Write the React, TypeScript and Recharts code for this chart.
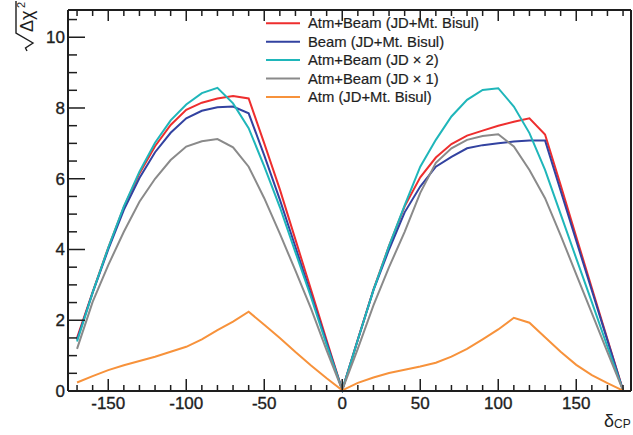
import { LineChart, Line, XAxis, YAxis } from "recharts";

// delta_CP grid (degrees)
const deltaCP = [
  -170, -160, -150, -140, -130, -120, -110, -100, -90, -80, -70, -60, -50, -40, -30, -20, -10, 0,
  10, 20, 30, 40, 50, 60, 70, 80, 90, 100, 110, 120, 130, 140, 150, 160, 170, 180,
];

const atmBeamJDBisul = [
  1.5, 2.8, 4.05, 5.2, 6.15, 6.92, 7.52, 7.95, 8.15, 8.27, 8.34, 8.27, 7.0, 5.7, 4.28, 2.86, 1.43, 0.03,
  1.46, 2.87, 4.1, 5.22, 6.04, 6.6, 6.98, 7.22, 7.36, 7.5, 7.61, 7.71, 7.25, 5.82, 4.36, 2.91, 1.46, 0.02,
];
const beamJDBisul = [
  1.45, 2.78, 4.0, 5.12, 6.02, 6.75, 7.3, 7.71, 7.92, 8.02, 8.04, 7.85, 6.66, 5.41, 4.07, 2.72, 1.37, 0.03,
  1.45, 2.85, 4.0, 5.05, 5.78, 6.34, 6.62, 6.86, 6.95, 7.0, 7.05, 7.08, 7.08, 5.66, 4.25, 2.84, 1.43, 0.02,
];
const atmBeamJD2 = [
  1.4, 2.78, 4.05, 5.22, 6.2, 7.02, 7.65, 8.1, 8.42, 8.57, 8.13, 7.43, 6.35, 5.2, 3.92, 2.65, 1.3, 0.03,
  1.45, 2.85, 4.1, 5.25, 6.34, 7.1, 7.76, 8.23, 8.51, 8.56, 8.04, 7.29, 6.25, 5.0, 3.75, 2.51, 1.25, 0.02,
];
const atmBeamJD1 = [
  1.19, 2.52, 3.56, 4.5, 5.35, 6.0, 6.53, 6.91, 7.06, 7.12, 6.89, 6.34, 5.45, 4.45, 3.4, 2.33, 1.15, 0.03,
  1.2, 2.42, 3.5, 4.5, 5.6, 6.45, 6.86, 7.1, 7.21, 7.26, 6.91, 6.25, 5.45, 4.4, 3.3, 2.2, 1.1, 0.02,
];
const atmJDBisul = [
  0.24, 0.42, 0.59, 0.73, 0.85, 0.97, 1.11, 1.25, 1.46, 1.72, 1.96, 2.24, 1.87, 1.5, 1.1, 0.72, 0.36, 0.02,
  0.23, 0.38, 0.51, 0.6, 0.69, 0.8, 0.97, 1.19, 1.46, 1.74, 2.07, 1.93, 1.52, 1.11, 0.74, 0.45, 0.22, 0.01,
];

const xTicks = [
  -170, -160, -150, -140, -130, -120, -110, -100, -90, -80, -70, -60, -50, -40, -30, -20, -10, 0,
  10, 20, 30, 40, 50, 60, 70, 80, 90, 100, 110, 120, 130, 140, 150, 160, 170, 180,
];
const yTicks = [
  0, 0.5, 1, 1.5, 2, 2.5, 3, 3.5, 4, 4.5, 5, 5.5, 6, 6.5, 7, 7.5, 8, 8.5, 9, 9.5, 10, 10.5,
];

const series = [
  { key: "atmBeamBisul", name: "Atm+Beam (JD+Mt. Bisul)", color: "#ee2e2e", values: atmBeamJDBisul },
  { key: "beamBisul", name: "Beam (JD+Mt. Bisul)", color: "#3242a0", values: beamJDBisul },
  { key: "atmBeamJD2", name: "Atm+Beam (JD \u00d7 2)", color: "#1fb6ba", values: atmBeamJD2 },
  { key: "atmBeamJD1", name: "Atm+Beam (JD \u00d7 1)", color: "#8a8a8a", values: atmBeamJD1 },
  { key: "atmBisul", name: "Atm (JD+Mt. Bisul)", color: "#f7923b", values: atmJDBisul },
];

const data = deltaCP.map((d, i) => {
  const row: Record<string, number> = { delta: d };
  series.forEach((s) => (row[s.key] = s.values[i]));
  return row;
});

const FONT = "'Liberation Sans', Arial, Helvetica, sans-serif";
const INK = "#1e1e1e";

const isMajorX = (v: number) => v % 50 === 0;
const isMajorY = (v: number) => Math.abs(v % 2) < 1e-9;

function BottomTick({ x, y, payload }: any) {
  const major = isMajorX(payload.value);
  return (
    <g>
      <line x1={x} x2={x} y1={y} y2={y - (major ? 12 : 6)} stroke={INK} strokeWidth={1.5} />
      {major && (
        <text
          x={x}
          y={y + 18}
          textAnchor="middle"
          fontSize={17}
          fill={INK}
          stroke={INK}
          strokeWidth={0.35}
          fontFamily={FONT}
        >
          {payload.value}
        </text>
      )}
    </g>
  );
}

function TopTick({ x, y, payload }: any) {
  const major = isMajorX(payload.value);
  return <line x1={x} x2={x} y1={y} y2={y + (major ? 11 : 6)} stroke={INK} strokeWidth={1.5} />;
}

function LeftTick({ x, y, payload }: any) {
  const major = isMajorY(payload.value);
  return (
    <g>
      <line x1={x} x2={x + (major ? 17 : 9)} y1={y} y2={y} stroke={INK} strokeWidth={1.5} />
      {major && (
        <text
          x={x - 3}
          y={y + 6}
          textAnchor="end"
          fontSize={17}
          fill={INK}
          stroke={INK}
          strokeWidth={0.35}
          fontFamily={FONT}
        >
          {payload.value}
        </text>
      )}
    </g>
  );
}

function RightTick({ x, y, payload }: any) {
  const major = isMajorY(payload.value);
  return <line x1={x} x2={x - (major ? 17 : 9)} y1={y} y2={y} stroke={INK} strokeWidth={1.5} />;
}

export default function App() {
  const xDomain = [-175.8, 185.1];
  const yDomain = [0, 10.77];
  const axisLine = { stroke: INK, strokeWidth: 2 };

  return (
    <div style={{ position: "fixed", left: 0, top: 0, width: 633, height: 435, background: "#fff" }}>
      <LineChart width={633} height={435} data={data} margin={{ top: 9, right: 1, bottom: 43, left: 67 }}>
        <XAxis
          dataKey="delta"
          type="number"
          domain={xDomain}
          ticks={xTicks}
          interval={0}
          height={1}
          tickSize={0}
          tickMargin={0}
          tickLine={false}
          axisLine={axisLine}
          tick={BottomTick}
        />
        <XAxis
          xAxisId="top"
          orientation="top"
          dataKey="delta"
          type="number"
          domain={xDomain}
          ticks={xTicks}
          interval={0}
          height={1}
          tickSize={0}
          tickMargin={0}
          tickLine={false}
          axisLine={axisLine}
          tick={TopTick}
        />
        <YAxis
          type="number"
          domain={yDomain}
          ticks={yTicks}
          interval={0}
          width={1}
          tickSize={0}
          tickMargin={0}
          tickLine={false}
          axisLine={axisLine}
          tick={LeftTick}
        />
        <YAxis
          yAxisId="right"
          orientation="right"
          type="number"
          domain={yDomain}
          ticks={yTicks}
          interval={0}
          width={1}
          tickSize={0}
          tickMargin={0}
          tickLine={false}
          axisLine={axisLine}
          tick={RightTick}
        />
        {series.map((s) => (
          <Line
            key={s.key}
            type="linear"
            dataKey={s.key}
            stroke={s.color}
            strokeWidth={2}
            dot={false}
            isAnimationActive={false}
          />
        ))}
      </LineChart>

      <svg
        width={633}
        height={435}
        style={{ position: "absolute", left: 0, top: 0, pointerEvents: "none" }}
        fontFamily={FONT}
      >
        {/* legend */}
        {series.map((s, i) => {
          const cy = 23.3 + i * 18.4;
          return (
            <g key={s.key}>
              <line x1={266} x2={300} y1={cy} y2={cy} stroke={s.color} strokeWidth={2} />
              <text x={308} y={cy + 5} fontSize={14.8} fill={INK} stroke={INK} strokeWidth={0.2}>
                {s.name}
              </text>
            </g>
          );
        })}

        {/* y title: sqrt(Δχ²), rotated */}
        <g transform="translate(33, 51) rotate(-90)" fill={INK}>
          <path d="M0,-6 L3,-7.5 L8,0 L18,-17 L50,-17" fill="none" stroke={INK} strokeWidth={1.4} />
          <text x={19} y={0} fontSize={18}>
            {"\u0394\u03c7"}
          </text>
          <text x={43} y={-8} fontSize={11}>
            2
          </text>
        </g>

        {/* x title */}
        <text x={604} y={427} fontSize={18} fill={INK}>
          {"\u03b4"}
          <tspan fontSize={12} dy={1}>
            CP
          </tspan>
        </text>
      </svg>
    </div>
  );
}
